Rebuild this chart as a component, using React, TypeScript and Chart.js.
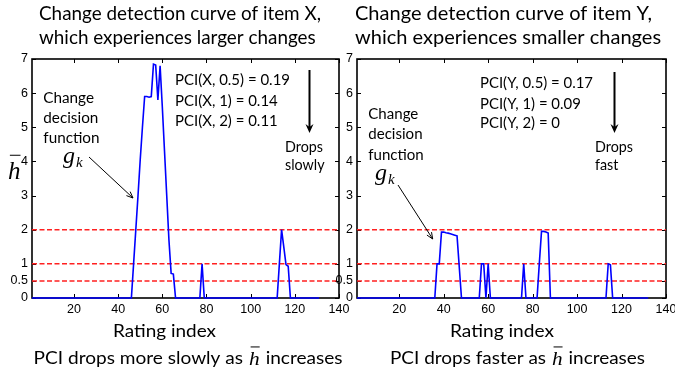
import { useEffect, useRef } from "react";
import { Chart, registerables } from "chart.js";

Chart.register(...registerables);

// ---------------- data ----------------
const X_MIN = 1;
const X_MAX = 140;
const xTickValues = [20, 40, 60, 80, 100, 120, 140];
const yTickValues = [0, 0.5, 1, 2, 3, 4, 5, 6, 7];
const thresholdValues = [0.5, 1, 2];

// item X (larger changes): rating index / change decision value g_k
const itemXIndex = [1, 46, 47, 48, 49, 50, 51, 52, 53, 54, 55, 56, 57, 58, 59, 60, 61, 62, 63, 64, 65, 66, 77, 78, 79, 112, 113, 114, 115, 116, 117, 118, 131];
const itemXValue = [0, 0, 1.0, 2.0, 3.0, 4.05, 5.0, 5.9, 5.9, 5.88, 5.9, 6.85, 6.82, 5.8, 6.8, 5.6, 4.3, 3.0, 1.7, 0.72, 0.7, 0, 0, 1, 0, 0, 1.0, 2.0, 1.5, 0.98, 0.93, 0, 0];

// item Y (smaller changes)
const itemYIndex = [1, 36, 37, 38, 39, 40, 41, 42, 43, 44, 45, 46, 48, 56, 57, 58, 59, 60, 61, 75, 76, 77, 82, 83, 84, 85, 86, 87, 88, 113, 114, 115, 116, 132];
const itemYValue = [0, 0, 1, 1, 1.93, 1.93, 1.91, 1.9, 1.88, 1.86, 1.84, 1.82, 0, 0, 1, 1, 0, 1, 0, 0, 1, 0, 0, 1, 1.95, 1.95, 1.93, 1.9, 0, 0, 1, 0.97, 0, 0];

const titleX = ["Change detection curve of item X,", "which experiences larger changes"];
const titleY = ["Change detection curve of item Y,", "which experiences smaller changes"];
const pciX = ["PCI(X, 0.5) = 0.19", "PCI(X, 1) = 0.14", "PCI(X, 2) = 0.11"];
const pciY = ["PCI(Y, 0.5) = 0.17", "PCI(Y, 1) = 0.09", "PCI(Y, 2) = 0"];
const dropsX = ["Drops", "slowly"];
const dropsY = ["Drops", "fast"];
const changeLines = ["Change", "decision", "function"];
const xAxisTitle = "Rating index";
const captionX = ["PCI drops more slowly as ", " increases"];
const captionY = ["PCI drops faster as ", " increases"];

// ---------------- layout / style ----------------
const SANS = "Lato, 'Open Sans', sans-serif";
const SERIF = "'Liberation Serif', 'DejaVu Serif', serif";
const H = 375;
const AREA_TOP = 59;
const AREA_BOTTOM = 298;
const X_AXIS_H = 40;

type Panel = {
  canvasLeft: number;
  canvasWidth: number;
  areaLeft: number;
  areaRight: number;
  indices: number[];
  values: number[];
  title: string[];
  titleX: number;
  titleW: number;
  pci: string[];
  pciX: number;
  pciY: number[];
  pciW: number;
  drops: string[];
  dropsX: number;
  dropsW: number;
  arrowX: number;
  arrowY1: number;
  arrowY2: number;
  changeX: number;
  changeY: number[];
  changeW: number;
  gX: number;
  gY: number;
  ptrFrom: [number, number];
  ptrTo: [number, number];
  xLabelX: number;
  xLabelW: number;
  caption: string[];
  captionX: number;
  captionW: number;
  yTitle: boolean;
};

const leftPanel: Panel = {
  canvasLeft: 0,
  canvasWidth: 350,
  areaLeft: 32,
  areaRight: 339,
  indices: itemXIndex,
  values: itemXValue,
  title: titleX,
  titleX: 39,
  titleW: 282,
  pci: pciX,
  pciX: 175,
  pciY: [85, 105.5, 126],
  pciW: 115,
  drops: dropsX,
  dropsX: 285,
  dropsW: 38,
  arrowX: 309.5,
  arrowY1: 70,
  arrowY2: 133,
  changeX: 43.3,
  changeY: [103, 123, 143],
  changeW: 50.7,
  gX: 63,
  gY: 163,
  ptrFrom: [89, 157],
  ptrTo: [133, 198],
  xLabelX: 113,
  xLabelW: 103,
  caption: captionX,
  captionX: 33.6,
  captionW: 309,
  yTitle: true,
};

const rightPanel: Panel = {
  canvasLeft: 325,
  canvasWidth: 350,
  areaLeft: 32,
  areaRight: 341,
  indices: itemYIndex,
  values: itemYValue,
  title: titleY,
  titleX: 355,
  titleW: 297,
  pci: pciY,
  pciX: 480,
  pciY: [87.5, 108.5, 128],
  pciW: 113,
  drops: dropsY,
  dropsX: 595,
  dropsW: 38,
  arrowX: 614.5,
  arrowY1: 72,
  arrowY2: 133,
  changeX: 368.3,
  changeY: [118.5, 139, 159.5],
  changeW: 50,
  gX: 375,
  gY: 180,
  ptrFrom: [398, 185],
  ptrTo: [432.7, 239],
  xLabelX: 450,
  xLabelW: 104,
  caption: captionY,
  captionX: 390,
  captionW: 255,
  yTitle: false,
};

// ---------------- drawing helpers ----------------
function drawBlock(ctx: CanvasRenderingContext2D, lines: string[], x: number, ys: number[], font: string, targetFirst: number) {
  ctx.font = font;
  const w = ctx.measureText(lines[0]).width;
  const sx = targetFirst / w;
  lines.forEach((t, i) => {
    ctx.save();
    ctx.translate(x, ys[i]);
    ctx.scale(sx, 1);
    ctx.textAlign = "left";
    ctx.textBaseline = "alphabetic";
    ctx.fillText(t, 0, 0);
    ctx.restore();
  });
}

function drawHBar(ctx: CanvasRenderingContext2D, x: number, baseline: number, size: number, sx = 1) {
  // italic serif h with an overbar
  ctx.save();
  ctx.translate(x, baseline);
  ctx.scale(sx, 1);
  ctx.font = `italic ${size}px ${SERIF}`;
  ctx.textAlign = "left";
  ctx.textBaseline = "alphabetic";
  ctx.fillText("h", 0, 0);
  const w = ctx.measureText("h").width;
  ctx.restore();
  ctx.save();
  ctx.lineWidth = 1;
  ctx.strokeStyle = "#000";
  ctx.beginPath();
  ctx.moveTo(x + 0.15 * w * sx, baseline - size * 0.95);
  ctx.lineTo(x + 1.0 * w * sx, baseline - size * 0.95);
  ctx.stroke();
  ctx.restore();
  return w * sx;
}

function drawCaption(ctx: CanvasRenderingContext2D, parts: string[], x: number, y: number, target: number) {
  const sansFont = `17px ${SANS}`;
  const hSize = 19;
  ctx.font = sansFont;
  const w1 = ctx.measureText(parts[0]).width;
  const w3 = ctx.measureText(parts[1]).width;
  ctx.font = `italic ${hSize}px ${SERIF}`;
  const w2 = ctx.measureText("h").width + 2;
  const sx = target / (w1 + w2 + w3);
  ctx.save();
  ctx.translate(x, y);
  ctx.scale(sx, 1);
  ctx.font = sansFont;
  ctx.textAlign = "left";
  ctx.textBaseline = "alphabetic";
  ctx.fillText(parts[0], 0, 0);
  ctx.fillText(parts[1], w1 + w2, 0);
  ctx.restore();
  drawHBar(ctx, x + (w1 + 1) * sx, y + 1, hSize, sx);
}

function panelPlugin(p: Panel) {
  return {
    id: "panelDecor",
    beforeDatasetsDraw(chart: any) {
      const ctx: CanvasRenderingContext2D = chart.ctx;
      const { left, right, top, bottom } = chart.chartArea;
      const xs = chart.scales.x;
      const ys = chart.scales.y;
      ctx.save();
      ctx.strokeStyle = "#000";
      ctx.lineWidth = 1.6;
      ctx.strokeRect(left, top, right - left, bottom - top);
      ctx.lineWidth = 1;
      ctx.beginPath();
      xTickValues.forEach((v) => {
        const px = Math.round(xs.getPixelForValue(v)) + 0.5;
        ctx.moveTo(px, bottom);
        ctx.lineTo(px, bottom - 4);
        ctx.moveTo(px, top);
        ctx.lineTo(px, top + 4);
      });
      yTickValues.forEach((v) => {
        const py = Math.round(ys.getPixelForValue(v)) + 0.5;
        ctx.moveTo(left, py);
        ctx.lineTo(left + 4, py);
        ctx.moveTo(right, py);
        ctx.lineTo(right - 4, py);
      });
      ctx.stroke();
      ctx.restore();
    },
    afterDraw(chart: any) {
      const ctx: CanvasRenderingContext2D = chart.ctx;
      const ox = p.canvasLeft;
      ctx.save();
      ctx.fillStyle = "#000";
      ctx.strokeStyle = "#000";
      // title
      drawBlock(ctx, p.title, p.titleX - ox, [20, 44], `19px ${SANS}`, p.titleW);
      // PCI values
      drawBlock(ctx, p.pci, p.pciX - ox, p.pciY, `14.5px ${SANS}`, p.pciW);
      // drops text
      drawBlock(ctx, p.drops, p.dropsX - ox, [152, 170], `15px ${SANS}`, p.dropsW);
      // change decision function
      drawBlock(ctx, changeLines, p.changeX - ox, p.changeY, `15.5px ${SANS}`, p.changeW);
      // g_k
      ctx.textAlign = "left";
      ctx.textBaseline = "alphabetic";
      ctx.font = `italic 24px ${SERIF}`;
      ctx.fillText("g", p.gX - ox, p.gY);
      const gw = ctx.measureText("g").width;
      ctx.font = `italic 15px ${SERIF}`;
      ctx.fillText("k", p.gX - ox + gw + 1, p.gY + 4);
      // thick downward arrow
      const ax = p.arrowX - ox;
      ctx.lineWidth = 2;
      ctx.beginPath();
      ctx.moveTo(ax, p.arrowY1);
      ctx.lineTo(ax, p.arrowY2 - 6);
      ctx.stroke();
      ctx.beginPath();
      ctx.moveTo(ax, p.arrowY2);
      ctx.lineTo(ax - 4, p.arrowY2 - 9);
      ctx.lineTo(ax, p.arrowY2 - 6);
      ctx.lineTo(ax + 4, p.arrowY2 - 9);
      ctx.closePath();
      ctx.fill();
      // pointer arrow
      const [fx, fy] = p.ptrFrom;
      const [tx, ty] = p.ptrTo;
      ctx.lineWidth = 1;
      ctx.beginPath();
      ctx.moveTo(fx - ox, fy);
      ctx.lineTo(tx - ox, ty);
      const ang = Math.atan2(ty - fy, tx - fx);
      const hl = 7;
      ctx.moveTo(tx - ox, ty);
      ctx.lineTo(tx - ox - hl * Math.cos(ang - 0.4), ty - hl * Math.sin(ang - 0.4));
      ctx.moveTo(tx - ox, ty);
      ctx.lineTo(tx - ox - hl * Math.cos(ang + 0.4), ty - hl * Math.sin(ang + 0.4));
      ctx.stroke();
      // x axis title
      drawBlock(ctx, [xAxisTitle], p.xLabelX - ox, [336.5], `16.5px ${SANS}`, p.xLabelW);
      // caption
      drawCaption(ctx, p.caption, p.captionX - ox, 364, p.captionW);
      // y axis title
      if (p.yTitle) {
        drawHBar(ctx, 8 - ox, 179, 25);
      }
      ctx.restore();
    },
  };
}

function makeConfig(p: Panel): any {
  const blue = {
    data: p.indices.map((x, i) => ({ x, y: p.values[i] })),
    borderColor: "#0000ff",
    borderWidth: 1.6,
    pointRadius: 0,
    tension: 0,
    clip: false,
    order: 0,
  };
  const reds = thresholdValues.map((t) => ({
    data: [
      { x: X_MIN, y: t },
      { x: X_MAX, y: t },
    ],
    borderColor: "#ff2020",
    borderWidth: 1.5,
    borderDash: [5, 2.5],
    pointRadius: 0,
    clip: false,
    order: 1,
  }));
  const tickFont = { family: "'Liberation Sans', Arial, sans-serif", size: 12.5 };
  return {
    type: "line",
    data: { datasets: [blue, ...reds] },
    plugins: [panelPlugin(p)],
    options: {
      animation: false,
      responsive: false,
      devicePixelRatio: 1,
      events: [],
      layout: {
        padding: {
          left: 0,
          right: p.canvasWidth - p.areaRight,
          top: AREA_TOP,
          bottom: H - AREA_BOTTOM - X_AXIS_H,
        },
      },
      plugins: {
        legend: { display: false },
        tooltip: { enabled: false },
        title: { display: false },
      },
      scales: {
        x: {
          type: "linear",
          min: X_MIN,
          max: X_MAX,
          grid: { display: false, drawTicks: false, tickLength: 0 },
          border: { display: false },
          afterBuildTicks: (s: any) => {
            s.ticks = xTickValues.map((v) => ({ value: v }));
          },
          afterFit: (s: any) => {
            s.height = X_AXIS_H;
            s.paddingLeft = 0;
            s.paddingRight = 0;
          },
          ticks: {
            autoSkip: false,
            maxRotation: 0,
            padding: 4,
            color: "#000",
            font: tickFont,
            callback: (v: any) => String(v),
          },
        },
        y: {
          type: "linear",
          min: 0,
          max: 7,
          grid: { display: false, drawTicks: false, tickLength: 0 },
          border: { display: false },
          afterBuildTicks: (s: any) => {
            s.ticks = yTickValues.map((v) => ({ value: v }));
          },
          afterFit: (s: any) => {
            s.width = p.areaLeft;
            s.paddingTop = 0;
            s.paddingBottom = 0;
          },
          ticks: {
            autoSkip: false,
            padding: 4,
            color: "#000",
            font: tickFont,
            callback: (v: any) => String(v),
          },
        },
      },
    },
  };
}

function PanelChart({ panel }: { panel: Panel }) {
  const ref = useRef<HTMLCanvasElement>(null);
  useEffect(() => {
    const chart = new Chart(ref.current as HTMLCanvasElement, makeConfig(panel));
    return () => chart.destroy();
  }, [panel]);
  return (
    <canvas
      ref={ref}
      width={panel.canvasWidth}
      height={H}
      style={{ position: "absolute", left: panel.canvasLeft, top: 0, width: panel.canvasWidth, height: H }}
    />
  );
}

export default function App() {
  return (
    <div style={{ position: "fixed", left: 0, top: 0, width: 675, height: H, background: "#fff", overflow: "hidden" }}>
      <PanelChart panel={leftPanel} />
      <PanelChart panel={rightPanel} />
    </div>
  );
}
